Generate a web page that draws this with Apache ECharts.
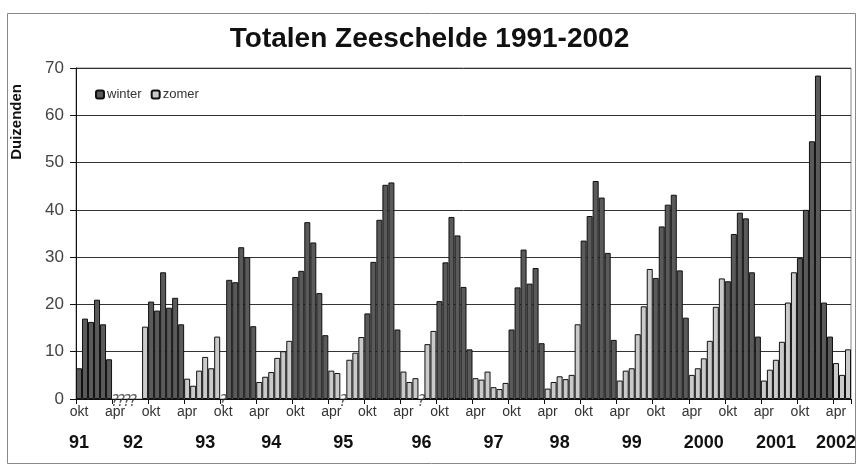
<!DOCTYPE html>
<html>
<head>
<meta charset="utf-8">
<script src="https://cdn.jsdelivr.net/npm/echarts@6/dist/echarts.min.js"></script>
<style>
  html, body { margin: 0; padding: 0; background: #fff; }
  #chart { width: 859px; height: 466px; }
</style>
</head>
<body>
<div id="chart"></div>
<script>
// maanden, te beginnen in oktober 1991
var maandNamen = ['okt','nov','dec','jan','feb','mrt','apr','mei','jun','jul','aug','sep'];

// winter: okt t/m mrt, per seizoen (duizenden)
var winter = [
    [6.5, 17, 16.3, 21, 15.8, 8.4],      // 91/92
    [20.6, 18.7, 26.8, 19.3, 21.4, 15.8], // 92/93
    [null, 25.2, 24.7, 32.1, 30, 15.4],   // 93/94
    [25.8, 27.1, 37.4, 33.1, 22.4, 13.5], // 94/95
    [18.1, 29, 37.9, 45.3, 45.8, 14.7],   // 95/96
    [20.7, 28.9, 38.5, 34.6, 23.7, 10.5], // 96/97
    [14.7, 23.6, 31.6, 24.4, 27.7, 11.8], // 97/98
    [33.5, 38.7, 46.1, 42.6, 30.9, 12.5], // 98/99
    [25.6, 36.5, 41.1, 43.2, 27.2, 17.2], // 99/00
    [24.9, 34.9, 39.4, 38.2, 26.8, 13.2], // 00/01
    [29.8, 40, 54.5, 68.4, 20.4, 13.2]    // 01/02
];

// zomer: apr t/m sep, per jaar
var zomer = [
    [null, null, null, null, null, 15.3], // 92
    [4.3, 2.8, 6.0, 8.9, 6.5, 13.2],      // 93
    [3.6, 4.7, 5.7, 8.7, 10.1, 12.3],     // 94
    [6.0, 5.5, null, 8.3, 9.8, 13.1],     // 95
    [5.8, 3.6, 4.4, null, 11.6, 14.4],    // 96
    [4.4, 4.1, 5.8, 2.5, 2.1, 3.4],       // 97
    [2.2, 3.6, 4.8, 4.2, 5.1, 15.8],      // 98
    [3.9, 6.0, 6.5, 13.7, 19.6, 27.5],    // 99
    [5.1, 6.5, 8.6, 12.3, 19.5, 25.5],    // 2000
    [3.9, 6.2, 8.3, 12.1, 20.4, 26.8],    // 2001
    [7.6, 5.1, 10.5]                      // 2002
];

// maanden zonder gegevens (index vanaf okt 91)
var onbekend = [6, 7, 8, 9, 24, 44, 57];

// jaartallen onder de as
var jaarLabels = ['91','92','93','94','95','96','97','98','99','2000','2001','2002'];
var jaarIndex  = [0, 9, 21, 32, 44, 57, 69, 80, 92, 104, 116, 126];

// reeksen opbouwen
var categorieen = [], winterData = [], zomerData = [];
for (var s = 0; s < winter.length; s++) {
    for (var m = 0; m < 6; m++) {
        categorieen.push(maandNamen[m] + ' ' + (1991 + s));
        winterData.push(winter[s][m]);
        zomerData.push(null);
    }
    var z = zomer[s];
    for (var m = 0; m < z.length; m++) {
        categorieen.push(maandNamen[m + 6] + ' ' + (1992 + s));
        winterData.push(null);
        zomerData.push(z[m]);
    }
}

var jaarMap = {};
jaarIndex.forEach(function (idx, i) { jaarMap[idx] = jaarLabels[i]; });

var myChart = echarts.init(document.getElementById('chart'));
var option = {
    animation: false,
    backgroundColor: '#fff',
    title: {
        text: 'Totalen Zeeschelde 1991-2002',
        left: 'center',
        top: 20,
        textStyle: { fontFamily: 'Liberation Sans, Arial', fontSize: 28, fontWeight: 'bold', color: '#111' }
    },
    legend: {
        data: ['winter', 'zomer'],
        left: 90,
        top: 83,
        itemWidth: 8,
        itemHeight: 8,
        itemGap: 9,
        textStyle: { fontFamily: 'Liberation Sans, Arial', fontSize: 13, color: '#333', padding: [0, 0, 0, -2] }
    },
    grid: {
        left: 76, right: 7, top: 68, bottom: 67,
        show: true, borderColor: '#888', borderWidth: 1
    },
    xAxis: [{
        type: 'category',
        data: categorieen,
        boundaryGap: true,
        axisLine: { lineStyle: { color: '#111', width: 1 } },
        axisTick: { show: true, interval: 5, length: 5, lineStyle: { color: '#111' } },
        axisLabel: {
            interval: 5,
            margin: 6,
            fontFamily: 'Liberation Sans, Arial',
            fontSize: 14,
            color: '#333',
            formatter: function (v) { return v.split(' ')[0]; }
        }
    }, {
        type: 'category',
        data: categorieen,
        position: 'bottom',
        offset: 27,
        axisLine: { show: false },
        axisTick: { show: false },
        axisLabel: {
            interval: 0,
            margin: 8,
            fontFamily: 'Liberation Sans, Arial',
            fontSize: 18,
            fontWeight: 'bold',
            color: '#111',
            formatter: function (v, i) { return jaarMap[i] || ''; }
        }
    }],
    yAxis: {
        type: 'value',
        min: 0, max: 70, interval: 10,
        axisLine: { show: true, lineStyle: { color: '#111' } },
        axisTick: { show: true, length: 6, lineStyle: { color: '#111' } },
        axisLabel: { margin: 12, fontFamily: 'Liberation Sans, Arial', fontSize: 17, color: '#444' },
        splitLine: { lineStyle: { color: '#333', width: 1 } }
    },
    graphic: [{
        type: 'rect',
        shape: { x: 7.5, y: 13.5, width: 848, height: 450 },
        style: { fill: 'none', stroke: '#888', lineWidth: 1 },
        silent: true
    }, {
        type: 'text',
        left: 9,
        top: 84,
        rotation: Math.PI / 2,
        style: {
            text: 'Duizenden',
            fontFamily: 'Liberation Sans, Arial',
            fontSize: 15,
            fontWeight: 'bold',
            fill: '#111'
        }
    }],
    series: [{
        name: 'winter',
        type: 'bar',
        stack: 'maand',
        barWidth: '100%',
        data: winterData,
        itemStyle: { color: '#5a5a5a', borderColor: '#111', borderWidth: 1 }
    }, {
        name: 'zomer',
        type: 'bar',
        stack: 'maand',
        barWidth: '100%',
        data: zomerData,
        itemStyle: { color: '#cacaca', borderColor: '#111', borderWidth: 1 }
    }, {
        name: 'onbekend',
        type: 'scatter',
        symbolSize: 0,
        data: onbekend.map(function (i) { return [i, 0]; }),
        z: 5,
        label: {
            show: true,
            position: 'inside',
            offset: [0, 3],
            formatter: '?',
            fontFamily: 'DejaVu Sans, Liberation Sans',
            fontSize: 15,
            fontStyle: 'italic',
            color: '#333'
        },
        silent: true
    }]
};
myChart.setOption(option);
</script>
</body>
</html>
